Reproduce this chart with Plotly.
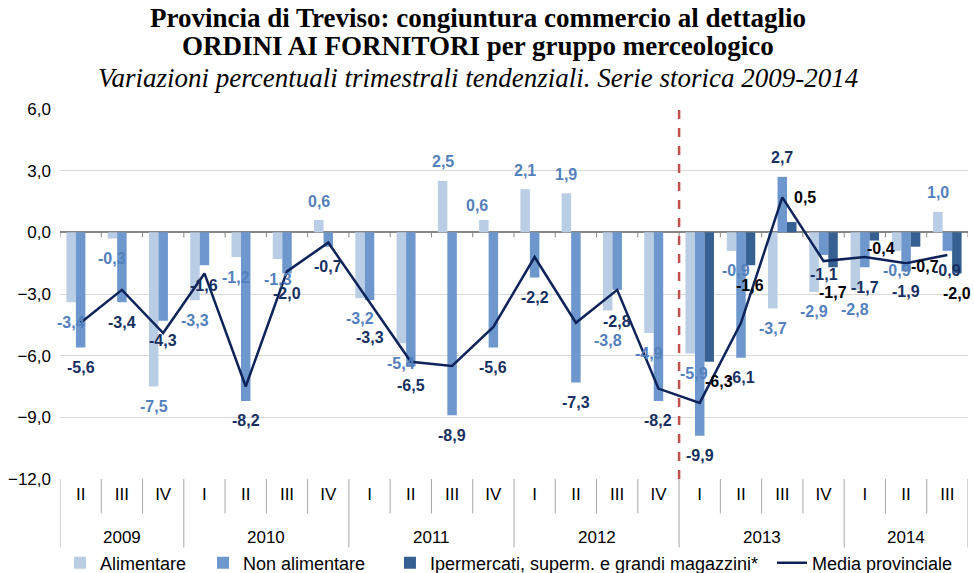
import plotly.graph_objects as go

years = ["2009"] * 3 + ["2010"] * 4 + ["2011"] * 4 + ["2012"] * 4 + ["2013"] * 4 + ["2014"] * 3
quarters = ["II", "III", "IV"] + ["I", "II", "III", "IV"] * 4 + ["I", "II", "III"]

alimentare = [-3.4, -0.3, -7.5, -3.3, -1.2, -1.3, 0.6, -3.2, -5.4, 2.5, 0.6,
              2.1, 1.9, -3.8, -4.9, -5.9, -0.9, -3.7, -2.9, -2.8, -0.9, 1.0]
non_alimentare = [-5.6, -3.4, -4.3, -1.6, -8.2, -2.0, -0.7, -3.3, -6.5, -8.9, -5.6,
                  -2.2, -7.3, -2.8, -8.2, -9.9, -6.1, 2.7, -1.1, -1.7, -1.9, -0.9]
ipermercati = [None] * 15 + [-6.3, -1.6, 0.5, -1.7, -0.4, -0.7, -2.0]
media = [-4.4, -2.8, -4.9, -2.0, -7.5, -1.9, -0.5, -3.4, -6.3, -6.5, -4.6,
         -1.2, -4.4, -2.8, -7.6, -8.3, -4.4, 1.7, -1.4, -1.2, -1.5, -1.1]

keys = [f"{y} {q}" for y, q in zip(years, quarters)]
lab_font = "Liberation Sans, Arial, sans-serif"
BARGAP = 0.31

series = [
    ("Alimentare", alimentare, "#B9CDE5", "#5480BC"),
    ("Non alimentare", non_alimentare, "#6E98CD", "#17305F"),
    ("Ipermercati, superm. e grandi magazzini*", ipermercati, "#376092", "#000000"),
]
legend_ids = ["legend", "legend2", "legend3", "legend4"]

# hand-placed label offsets of the original (series index, category index) -> (dx, dy) px
label_nudge = {
    (0, 10): (-7, -4), (1, 7): (0, -17), (0, 13): (0, -10), (1, 13): (0, -12),
    (0, 15): (4, 0), (2, 15): (10, 0), (0, 16): (4, 0),
    (2, 17): (13, 6), (2, 18): (0, -5), (2, 19): (7, 12), (2, 20): (9, 0),
}

fig = go.Figure()
for k, (name, vals, col, _) in enumerate(series):
    fig.add_trace(go.Bar(x=keys, y=vals, name=name, marker_color=col, marker_line_width=0,
                         legend=legend_ids[k], showlegend=True))
fig.add_trace(go.Scatter(x=keys, y=media, name="Media provinciale", mode="lines",
                         line=dict(color="#0D2359", width=2.5), legend=legend_ids[3],
                         showlegend=True))

# value labels (drawn above all bars, like the original)
annotations = []
slot = (1 - BARGAP) / len(series)
for s, (name, vals, _, tcol) in enumerate(series):
    off = (s - (len(series) - 1) / 2) * slot
    for i, v in enumerate(vals):
        if v is None:
            continue
        dx, dy = label_nudge.get((s, i), (0, 0))
        annotations.append(dict(
            x=i + off, y=v, xref="x", yref="y", text=f"{v:.1f}".replace(".", ","),
            showarrow=False, yanchor="middle", xanchor="center",
            xshift=dx, yshift=(19 if v > 0 else -20) + dy,
            font=dict(family=lab_font, size=16, color=tcol, weight="bold"),
        ))

# year labels under the quarter labels
for yr in dict.fromkeys(years):
    idx = [i for i, y in enumerate(years) if y == yr]
    annotations.append(dict(x=sum(idx) / len(idx), y=-0.157, xref="x", yref="paper",
                            text=yr, showarrow=False, yanchor="middle",
                            font=dict(family=lab_font, size=17, color="#000000")))

# titles
title_font = "Liberation Serif, Times New Roman, serif"
for txt, yp in [("<b>Provincia di Treviso: congiuntura commercio al dettaglio</b>", 1.247),
                ("<b>ORDINI AI FORNITORI per gruppo merceologico</b>", 1.171),
                ("<i>Variazioni percentuali trimestrali tendenziali. Serie storica 2009-2014</i>", 1.084)]:
    annotations.append(dict(x=0.46, y=yp, xref="paper", yref="paper", text=txt, showarrow=False,
                            xanchor="center", yanchor="middle",
                            font=dict(family=title_font, size=27, color="#000000")))

# separators in the category label area + small ticks on the zero line
n = len(quarters)
shapes = []
for i in range(n + 1):
    is_year_boundary = i == 0 or i == n or years[i] != years[i - 1]
    shapes.append(dict(type="line", xref="x", yref="paper", x0=i - 0.5, x1=i - 0.5,
                       y0=0, y1=-0.185 if is_year_boundary else -0.093,
                       line=dict(color="#A6A6A6", width=1)))
    shapes.append(dict(type="line", xref="x", yref="y", ysizemode="pixel", yanchor=0,
                       x0=i - 0.5, x1=i - 0.5, y0=0, y1=-5,
                       line=dict(color="#868686", width=1)))
# dashed red separator before 2013
split = years.index("2013") - 0.5
shapes.append(dict(type="line", xref="x", yref="y", x0=split, x1=split, y0=-12, y1=6,
                   line=dict(color="#C0504D", width=2.5, dash="dash")))

leg_common = dict(orientation="h", y=-0.227, yanchor="middle", xanchor="left",
                  font=dict(family=lab_font, size=18, color="#000000"),
                  bgcolor="rgba(0,0,0,0)", borderwidth=0)
legend_x = [0.0, 0.1575, 0.3634, 0.7841]

fig.update_layout(
    width=974, height=573,
    margin=dict(l=60, r=6, t=109, b=94, autoexpand=False),
    paper_bgcolor="white", plot_bgcolor="white",
    separators=",.",
    barmode="group", bargap=BARGAP, bargroupgap=0,
    font=dict(family=lab_font, size=17, color="#000000"),
    xaxis=dict(
        type="category", categoryorder="array", categoryarray=keys,
        tickmode="array", tickvals=keys, ticktext=quarters,
        showgrid=False, showline=False, zeroline=False, ticks="",
        ticklabelstandoff=3, range=[-0.5, n - 0.5],
        tickfont=dict(family=lab_font, size=17, color="#000000"),
    ),
    yaxis=dict(
        range=[-12, 6], dtick=3, tickformat=".1f", showgrid=True, gridcolor="#D9D9D9",
        gridwidth=1, zeroline=True, zerolinecolor="#868686", zerolinewidth=2,
        showline=False, ticks="", ticklabelstandoff=8,
        tickfont=dict(family=lab_font, size=17, color="#000000"),
    ),
    legend=dict(leg_common, x=legend_x[0]),
    legend2=dict(leg_common, x=legend_x[1]),
    legend3=dict(leg_common, x=legend_x[2]),
    legend4=dict(leg_common, x=legend_x[3]),
    annotations=annotations,
    shapes=shapes,
)

page_css = ("var s=document.createElement('style');"
            "s.textContent='html,body{margin:0;padding:0;overflow:hidden;"
            "width:974px;height:573px;}';"
            "document.head.appendChild(s);")
fig.write_html("out.html", config={"displayModeBar": False}, post_script=page_css)
